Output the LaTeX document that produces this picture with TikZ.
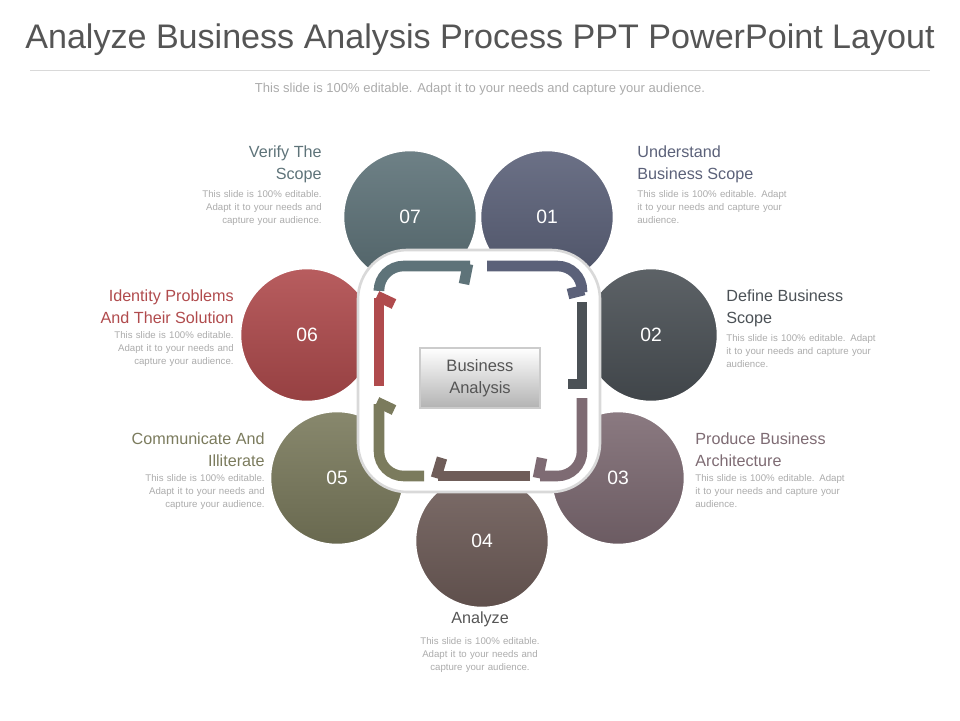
\documentclass[tikz,border=0pt]{standalone}
\usepackage{fontspec}
\setmainfont{Liberation Sans}
\usetikzlibrary{positioning}
\hyphenpenalty=10000
\definecolor{cSeven}{HTML}{5E7379}
\definecolor{cOne}{HTML}{5B6179}
\definecolor{cTwo}{HTML}{4B5156}
\definecolor{cThree}{HTML}{7E6B73}
\definecolor{cFour}{HTML}{6F5D59}
\definecolor{cFive}{HTML}{7B7B5D}
\definecolor{cSix}{HTML}{B04B4D}
\definecolor{txt}{HTML}{555555}
\definecolor{body}{HTML}{ABABAB}
\tikzset{
  petal/.style={draw=white,line width=2pt,circle,minimum size=2.7cm,inner sep=0pt,
    text=white,font=\fontsize{11}{13}\selectfont},
  head/.style={inner sep=0pt,font=\fontsize{9.2}{13}\selectfont},
  note/.style={inner sep=0pt,text=body,text width=3.0cm,font=\fontsize{5.5}{7.4}\selectfont},
  track/.style={line width=6pt},
}
\begin{document}
\begin{tikzpicture}[x=0.02cm,y=-0.02cm]
\useasboundingbox (0,0) rectangle (960,720);
% title
\node[text=txt,font=\fontsize{19.4}{22}\selectfont] (title) at (480,40) {Analyze Business Analysis Process PPT PowerPoint Layout};
\draw[black!15] (30,70) -- (930,70);
\node[text=body,font=\fontsize{7.4}{9}\selectfont] (sub) at (480,89) {This slide is 100\% editable. Adapt it to your needs and capture your audience.};
% petals
\node[petal,top color=cThree!90,bottom color=cThree!85!black] (p3) at (618,478) {03};
\node[petal,top color=cFive!90,bottom color=cFive!85!black] (p5) at (337,478) {05};
\node[petal,top color=cFour!90,bottom color=cFour!85!black] (p4) at (482,541) {04};
\node[petal,top color=cTwo!90,bottom color=cTwo!85!black] (p2) at (651,335) {02};
\node[petal,top color=cSix!90,bottom color=cSix!85!black] (p6) at (307,335) {06};
\node[petal,top color=cOne!90,bottom color=cOne!85!black] (p1) at (547,217) {01};
\node[petal,top color=cSeven!90,bottom color=cSeven!85!black] (p7) at (410,217) {07};
% centre frame
\draw[fill=white,draw=black!15,line width=1.5pt,rounded corners=28] (358,250) rectangle (600,492);
\draw[track,cSeven,rounded corners=14] (379,288) |- (470,266);
\draw[track,cSeven] (468,264) -- (464,284);
\draw[track,cOne,rounded corners=14] (487,266) -| (582,292);
\draw[track,cOne] (584,290) -- (568,294);
\draw[track,cTwo] (582,302) -- (582,384) -- (568,384);
\draw[track,cThree,rounded corners=14] (582,398) |- (540,476);
\draw[track,cThree] (538,478) -- (542,458);
\draw[track,cFour] (530,476) -- (438,476);
\draw[track,cFour] (436,478) -- (442,458);
\draw[track,cFive,rounded corners=14] (424,476) -| (379,404);
\draw[track,cFive] (377,402) -- (394,410);
\draw[track,cSix] (379,386) -- (379,298);
\draw[track,cSix] (377,296) -- (394,304);
\node[draw=black!20,line width=1pt,top color=white,bottom color=black!30,minimum width=2.4cm,minimum height=1.2cm,
  text=txt,align=center,font=\fontsize{9.4}{12.5}\selectfont] (core) at (480,378) {Business\\Analysis};
% labels
\node[head,text=cSeven,align=right,anchor=north east] (h7) at (322,145) {Verify The\\Scope};
\node[note,align=right,below=4pt of h7.south east,anchor=north east] (n7) {This slide is 100\% editable. Adapt it to your needs and capture your audience.};
\node[head,text=cOne,align=left,anchor=north west] (h1) at (637,145) {Understand\\Business Scope};
\node[note,align=left,below=4pt of h1.south west,anchor=north west] (n1) {This slide is 100\% editable. Adapt it to your needs and capture your audience.};
\node[head,text=cTwo,align=left,anchor=north west] (h2) at (726,289) {Define Business\\Scope};
\node[note,align=left,below=4pt of h2.south west,anchor=north west] (n2) {This slide is 100\% editable. Adapt it to your needs and capture your audience.};
\node[head,text=cSix,align=right,anchor=north east] (h6) at (234,289) {Identity Problems\\And Their Solution};
\node[note,align=right,below=4pt of h6.south east,anchor=north east] (n6) {This slide is 100\% editable. Adapt it to your needs and capture your audience.};
\node[head,text=cThree,align=left,anchor=north west] (h3) at (695,432) {Produce Business\\Architecture};
\node[note,align=left,below=4pt of h3.south west,anchor=north west] (n3) {This slide is 100\% editable. Adapt it to your needs and capture your audience.};
\node[head,text=cFive,align=right,anchor=north east] (h5) at (265,432) {Communicate And\\Illiterate};
\node[note,align=right,below=4pt of h5.south east,anchor=north east] (n5) {This slide is 100\% editable. Adapt it to your needs and capture your audience.};
\node[head,text=txt,anchor=north] (h4) at (480,611) {Analyze};
\node[note,align=center,below=6pt of h4] (n4) {This slide is 100\% editable. Adapt it to your needs and capture your audience.};
\end{tikzpicture}
\end{document}
